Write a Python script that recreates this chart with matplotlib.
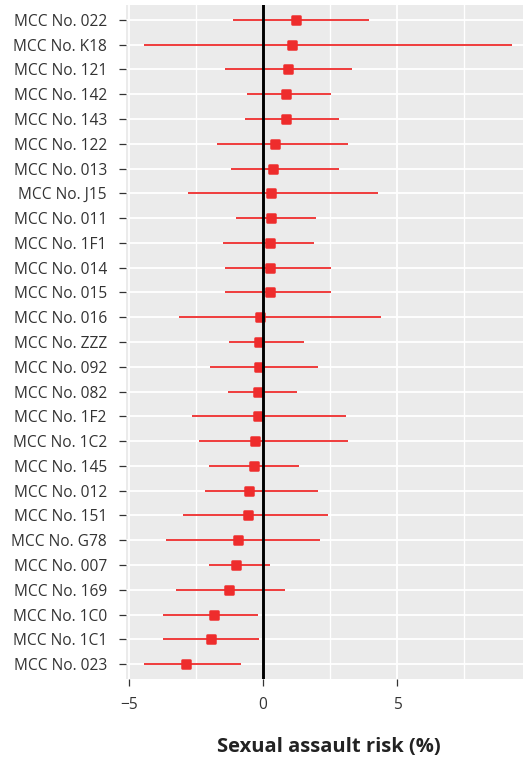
import numpy as np
import matplotlib.pyplot as plt
from matplotlib.markers import MarkerStyle

labels = ["MCC No. 022", "MCC No. K18", "MCC No. 121", "MCC No. 142", "MCC No. 143",
          "MCC No. 122", "MCC No. 013", "MCC No. J15", "MCC No. 011", "MCC No. 1F1",
          "MCC No. 014", "MCC No. 015", "MCC No. 016", "MCC No. ZZZ", "MCC No. 092",
          "MCC No. 082", "MCC No. 1F2", "MCC No. 1C2", "MCC No. 145", "MCC No. 012",
          "MCC No. 151", "MCC No. G78", "MCC No. 007", "MCC No. 169", "MCC No. 1C0",
          "MCC No. 1C1", "MCC No. 023"]
estimate = [1.24, 1.09, 0.94, 0.84, 0.84, 0.46, 0.37, 0.30, 0.29, 0.27, 0.25, 0.25,
            -0.12, -0.15, -0.16, -0.20, -0.21, -0.30, -0.34, -0.52, -0.55, -0.94,
            -1.00, -1.29, -1.84, -1.94, -2.89]
lower = [-1.12, -4.44, -1.41, -0.60, -0.67, -1.72, -1.19, -2.79, -1.02, -1.50, -1.43,
         -1.41, -3.13, -1.28, -1.97, -1.32, -2.64, -2.39, -2.03, -2.18, -3.00, -3.62,
         -2.03, -3.23, -3.72, -3.75, -4.43]
upper = [3.95, 9.27, 3.30, 2.52, 2.82, 3.16, 2.84, 4.29, 1.96, 1.91, 2.52, 2.54,
         4.38, 1.53, 2.03, 1.25, 3.10, 3.18, 1.33, 2.05, 2.40, 2.12, 0.27, 0.80,
         -0.19, -0.17, -0.84]

plt.rcParams['font.family'] = ['Open Sans', 'DejaVu Sans']

red = '#EE2C2C'
n = len(labels)
ypos = np.arange(n, 0, -1)

fig = plt.figure(figsize=(5.23, 7.62), dpi=100)
# panel runs a little past the right edge, as in the original crop
ax = fig.add_axes([126 / 523, 1 - 679 / 762, (531 - 126) / 523, 674 / 762])
ax.set_facecolor('#EBEBEB')

ax.hlines(ypos, lower, upper, color=red, lw=1.3, zorder=3)
ax.plot(estimate, ypos, ls='none', marker=MarkerStyle('s', joinstyle='round'),
        ms=5.2, mfc=red, mec=red, mew=1.8, zorder=4)
ax.axvline(0, color='black', lw=2.1, zorder=5)

ax.set_xlim(-5.11, 9.98)
ax.set_ylim(0.4, n + 0.6)
ax.set_xticks([-5, 0, 5])
ax.set_xticklabels(['\u22125', '0', '5'])
ax.set_xticks([-2.5, 2.5, 7.5], minor=True)
ax.set_yticks(ypos)
ax.set_yticklabels(labels)

ax.grid(True, which='major', color='white', lw=1.3, zorder=1)
ax.grid(True, which='minor', axis='x', color='white', lw=1.0, zorder=1)
ax.set_axisbelow(True)
for s in ax.spines.values():
    s.set_visible(False)

ax.tick_params(axis='both', which='major', length=4.8, width=0.9, color='#333333',
               labelcolor='#333333', labelsize=11.2)
ax.tick_params(axis='x', which='major', pad=8.5)
ax.tick_params(axis='y', which='major', pad=9)
ax.tick_params(which='minor', length=0)

ax.set_xlabel('Sexual assault risk (%)', fontsize=14.5, fontweight='bold',
              color='#222222', labelpad=17)

fig.savefig('out.png', dpi=100)
